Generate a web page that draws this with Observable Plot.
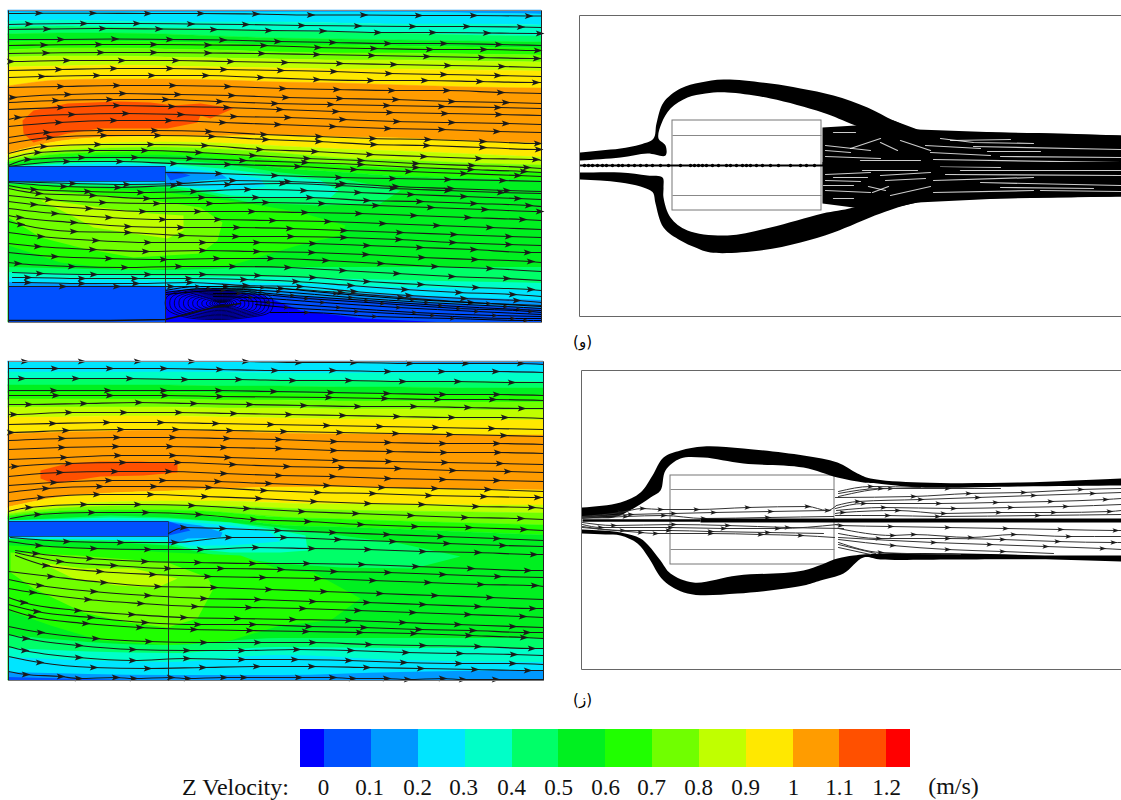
<!DOCTYPE html>
<html><head><meta charset="utf-8">
<script src="https://cdn.jsdelivr.net/npm/d3@7"></script>
<script src="https://cdn.jsdelivr.net/npm/@observablehq/plot@0.6"></script>
<style>html,body{margin:0;padding:0;background:#fff}svg{display:block}</style>
</head><body><div id="chart"></div>
<script>
// Colour ramp
const C = {v0:"#0000ff",v01:"#0050ff",v02:"#0098ff",v03:"#00e5ff",v04:"#00ffc8",v05:"#00ff68",v06:"#00f020",v07:"#20ff00",v08:"#70ff00",v09:"#c0ff00",v10:"#ffe800",v11:"#ff9c00",v12:"#ff5000",v13:"#ff0000"};

// Legend
const legendEdges = [300,324,371,418,465,512,558,605,652,699,746,793,839,886,910];
const legendColors = [C.v0,C.v01,C.v02,C.v03,C.v04,C.v05,C.v06,C.v07,C.v08,C.v09,C.v10,C.v11,C.v12,C.v13];
const legendLabels = ["0","0.1","0.2","0.3","0.4","0.5","0.6","0.7","0.8","0.9","1","1.1","1.2"];
const legendLabelX = [323,369,417,463,511,558,605,651,698,745,793,839,886];

// Panel A (top left) contour bands: lower edge of each band at bandXA
const bandXA = [8,60,110,165,220,280,340,400,470,541];
const bandsA = [
 [C.v02,[12,12,12,12,12,12,12,12,13,14]],
 [C.v03,[21,20,21,22,22,22,23,24,24,25]],
 [C.v04,[27,26,27,28,29,31,32,33,35,36]],
 [C.v05,[34,33,33,34,36,38,39,40,41,42]],
 [C.v06,[42,41,41,42,43,45,45,46,47,48]],
 [C.v07,[50,48,48,49,50,52,53,53,54,55]],
 [C.v08,[57,56,56,57,58,59,60,60,61,62]],
 [C.v09,[67,66,65,66,67,68,69,69,70,71]],
 [C.v10,[86,80,79,79,80,82,83,85,87,88]],
 [C.v11,[153,141,137,136,136,135,137,138,141,143]],
 [C.v10,[156,147,143,142,143,146,149,151,154,157]],
 [C.v09,[160,151,148,147,149,153,158,160,163,165]],
 [C.v08,[162,154,152,151,154,160,165,168,170,172]],
 [C.v07,[164,157,155,155,159,168,172,176,178,180]],
 [C.v06,[322,322,322,322,322,322,322,322,322,322]]
];
const patchesA = [
 [C.v12,[22,120,33,110,67,103,117,101,150,102,173,105,200,103,233,108,210,118,200,115,197,122,167,128,100,128,67,133,33,142,23,133]],
 [C.v05,[8,166,60,160,110,158,165,159,220,163,280,172,340,178,400,190,380,203,320,205,250,202,200,192,165,187,100,186,8,184]],
 [C.v04,[8,166,60,163,110,161,165,163,220,168,280,175,320,180,338,190,330,197,280,197,230,195,190,188,165,185,60,183,8,182]],
 [C.v03,[8,166,110,163,165,165,220,172,260,178,265,186,230,190,190,187,165,184,8,182]],
 [C.v02,[165,170,220,173,227,178,200,180,165,185]],
 [C.v01,[165,172,180,172,190,175,170,180]],
 [C.v07,[8,184,100,188,165,192,250,203,300,212,345,225,340,235,297,245,230,265,130,270,60,262,8,245]],
 [C.v08,[8,187,67,192,133,197,200,207,222,222,217,240,200,253,133,257,83,248,40,237,8,217]],
 [C.v09,[50,200,100,207,150,213,183,215,183,230,167,238,133,233,93,227,67,213,40,200]]
];
const floorXA = [8,165,280,400,541];
const floorA = [
 [C.v05,[267,270,267,267,267]],
 [C.v04,[272,276,277,280,283]],
 [C.v03,[277,281,283,287,290]],
 [C.v02,[282,286,290,295,300]],
 [C.v01,[286,289,295,302,308]]
];
const plateA = [[8,166,165,181],[8,286,165,322]];
const plateB = [[8,521,168,536]];
const wakeA = [165,291,213,288,262,295,300,310,363,318,447,322,165,322];

// Panel A streamlines: x,y pairs; first and last are the ends, the others carry arrows
const streamsA = [
[8,13,38,12.7,92,12.7,147,13,200,13,255,13.5,310,14.5,363,14.5,418,15,473,15,528,15.5,541,15.5],
[8,24,28,23.5,83,23,136,23,190,23.5,245,24,301,25,357,25.5,412,26,466,26,520,26.5,541,27],
[8,29,46,28.5,102,28,158,28.5,213,29,268,30,322,30.5,377,32,432,32,486,32.5,539,33,541,33],
[8,39,60,39,114,38.5,169,39,222,39.5,277,41,332,42,387,43,443,43,498,44,541,45],
[8,45,43,44.5,98,44,153,44,207,44.5,263,45,317,47,373,48,429,49,483,49,537,50,541,50],
[8,53,45,52.5,100,52,153,52,207,52.5,261,53,316,54,371,55,426,56,481,57,536,58,541,58],
[8,61,10,61,66,60,121,60,175,60,230,61,284,62,339,63,393,64,447,65,501,66,541,67],
[8,70,58,69,113,68,169,68,223,69,280,70,333,71,388,73,443,74,497,75,541,76],
[8,77,41,76,96,75,151,75,205,75,260,77,316,79,370,80,424,80,479,81,535,82,541,82],
[8,87,60,86,116,85,172,85,227,86,282,88,336,89,391,90,446,90,500,92,541,93],
[8,98,12,97,67,94,122,93,177,94,231,95,285,97,339,98,395,99,451,101,505,102,541,103],
[8,102,55,100,109,99,165,99,219,101,274,103,330,104,386,105,441,106,497,107,541,108],
[8,109,60,107,116,105,171,106,226,107,279,109,335,111,389,112,444,113,498,114,541,115],
[8,119,17,117,71,114,125,113,180,114,233,116,287,117,342,119,396,121,451,122,505,123,541,124],
[8,126,58,122,113,120,168,120,222,122,277,124,332,126,387,128,441,129,496,131,541,132],
[8,137,46,132,100,130,154,130,208,131,263,134,318,136,372,138,427,139,482,141,537,143,541,143],
[8,143,49,137,103,135,157,135,211,136,265,139,318,141,373,144,426,145,482,147,538,149,541,149],
[8,153,43,146,97,144,150,144,204,145,259,149,314,151,369,154,423,156,478,158,535,159,541,160],
[8,158,37,152,91,150,144,150,198,152,252,155,306,158,360,160,415,163,471,165,526,167,541,168],
[8,165,27,159,81,157,134,157,189,158,242,160,304,162,360,164,415,167,470,169,523,171,541,172],
[8,166,66,161,119,161,173,163,227,164,297,166,353,169,408,171,463,173,517,175,541,176],
[165,172,218,173,274,175,338,177,392,178,447,179,502,180,541,181],
[8,181,72,183,126,184,179,183,232,180,287,181,342,183,395,186,450,188,506,190,541,191],
[8,182,63,186,117,187,173,185,227,184,282,183,338,185,392,188,447,190,500,192,541,193],
[8,185,33,189,87,191,140,192,193,191,247,189,303,190,357,192,410,194,463,196,517,198,541,199],
[8,188,38,193,92,195,146,198,201,197,255,197,309,197,366,200,419,201,473,203,528,205,541,206],
[8,195,48,199,102,202,156,203,209,203,265,202,321,203,375,205,430,207,484,209,539,211,541,211],
[8,201,33,204,88,208,142,211,197,211,251,211,304,212,358,213,413,215,467,217,522,219,541,220],
[8,208,54,213,108,217,162,219,217,219,272,220,327,221,382,223,436,225,489,227,541,229],
[8,215,19,217,73,222,127,226,180,227,236,227,289,228,343,230,399,232,453,234,508,236,541,237],
[8,221,20,224,73,231,127,232,181,235,235,236,290,236,343,237,398,239,452,242,508,244,541,245],
[8,232,40,236,95,240,147,242,202,242,256,242,312,243,366,245,419,247,473,249,527,252,541,252],
[8,243,37,246,92,249,145,251,202,250,256,251,311,252,365,254,421,257,474,259,530,261,541,262],
[8,252,54,256,108,258,163,259,216,258,270,258,325,260,380,263,434,266,489,268,541,271],
[8,262,17,263,71,266,124,267,178,266,232,266,287,267,342,270,396,273,451,276,506,278,541,280],
[12,272,39,273,93,274,147,274,202,274,257,275,312,277,366,281,420,284,475,287,530,289,541,290],
[12,277,27,277,81,278,134,278,188,278,243,279,295,281,350,285,404,289,458,292,512,294,541,296],
[12,282,27,282,81,283,135,283,189,282,245,285,299,286,353,291,408,295,463,298,516,300,541,302],
[8,286,62,286,116,286,170,286,225,286,280,288,340,292,400,297,470,302,541,305]
];
const denseA = [
[165,290,197,286,262,287,335,293,412,299,488,303,541,306],
[165,292,208,288,278,291,350,297,426,302,505,306,541,308],
[165,294,222,290,292,295,366,300,440,305,518,309,541,310],
[213,293,238,293,306,298,382,303,458,308,530,311,541,312],
[213,296,250,297,322,302,398,307,476,311,541,314],
[240,300,268,302,338,307,414,312,494,315,541,316],
[255,304,286,307,356,311,432,315,512,318,541,318],
[270,312,306,312,374,316,452,318,525,320,541,320]
];
const bottomLineA = [8,320,60,320,110,320,165,319,213,307,240,303];
// Vortex: one digitised loop, drawn at several sizes about its centre
const vortexCentre = [222,303];
const vortexLoop = [-56,-6,-40,-13,0,-15,35,-13,50,-4,48,8,25,14,-10,16,-40,13,-56,5];
const vortexSizes = [0.06,0.1,0.14,0.18,0.22,0.28,0.36,0.44,0.52,0.6,0.68,0.76,0.84,0.92,1];

// Panel B (bottom left)
const bandXB = [8,60,110,168,220,280,340,400,470,543];
const bandsB = [
 [C.v02,[362,362,362,362,362,362,362,363,364,365]],
 [C.v03,[372,372,372,372,372,373,373,373,373,373]],
 [C.v04,[379,379,379,379,379,380,380,381,381,382]],
 [C.v05,[385,385,385,385,386,386,387,387,388,388]],
 [C.v06,[392,392,392,392,393,393,394,394,395,395]],
 [C.v07,[399,399,399,399,400,400,401,401,402,402]],
 [C.v08,[407,407,407,407,408,408,409,409,410,410]],
 [C.v09,[417,417,416,416,417,418,419,419,420,420]],
 [C.v10,[434,432,431,430,431,433,434,434,435,435]],
 [C.v11,[507,497,493,491,489,487,487,488,489,490]],
 [C.v10,[512,505,502,501,501,503,504,504,505,505]],
 [C.v09,[514,508,506,505,506,508,510,511,512,513]],
 [C.v08,[516,511,510,510,512,517,519,521,523,525]],
 [C.v07,[518,514,513,514,517,525,527,529,532,535]],
 [C.v06,[680,680,680,680,680,680,680,680,680,680]]
];
const patchesB = [
 [C.v12,[40,470,67,463,100,461,140,461,177,463,177,472,143,475,100,476,53,483,40,478]],
 [C.v05,[8,520,110,515,168,517,220,521,280,527,340,535,400,543,460,556,413,568,340,567,280,563,220,556,168,545,100,541,8,539]],
 [C.v04,[8,520,110,517,168,518,230,522,280,530,305,535,307,550,280,552,230,552,190,548,168,542,100,539,8,538]],
 [C.v03,[8,520,110,519,168,520,230,525,270,532,280,541,230,545,190,545,168,540,8,538]],
 [C.v02,[168,521,200,525,222,532,220,537,187,538,168,545]],
 [C.v01,[168,521,185,526,190,530,168,535]],
 [C.v07,[8,545,100,548,168,552,240,555,282,570,313,572,360,598,330,620,280,625,230,640,168,645,100,640,50,625,8,610]],
 [C.v08,[10,552,77,555,167,562,207,577,213,588,197,618,167,627,127,622,83,612,33,588,10,572]],
 [C.v09,[40,562,83,568,133,568,177,578,157,587,117,585,73,578]]
];
const floorXB = [8,168,280,400,543];
const floorB = [
 [C.v05,[635,645,638,638,638]],
 [C.v04,[648,653,647,648,648]],
 [C.v03,[657,662,655,660,662]],
 [C.v02,[672,675,675,672,670]],
 [C.v01,[677,680,680,680,680]]
];
const streamsB = [
[8,361,24,361,81,361,137,361,191,361,245,361,298,362,353,362,409,363,465,363,520,363,543,364],
[8,368,54,368,109,368,163,368,219,369,274,370,332,370,387,371,441,371,495,371,543,372],
[8,378,21,378,75,378,129,378,184,379,238,379,292,380,348,380,402,381,457,381,511,382,543,382],
[8,390,53,390,107,390,163,390,218,390,273,391,330,392,386,393,442,394,496,394,543,395],
[8,395,55,395,109,395,164,395,219,396,328,397,384,398,437,399,492,399,543,400],
[8,404,28,404,83,403,138,402,193,403,249,404,303,405,357,406,413,406,467,407,521,408,543,408],
[8,414,13,414,68,412,123,412,178,412,233,413,288,414,342,415,396,416,451,417,504,417,543,418],
[8,424,52,423,106,422,160,422,215,423,270,424,326,425,379,426,435,427,491,428,543,429],
[8,432,10,432,65,430,120,429,175,429,229,430,283,431,339,432,395,433,449,434,503,435,543,436],
[8,440,61,438,116,437,172,437,226,438,278,439,333,441,387,442,442,443,496,443,543,444],
[8,449,61,447,115,446,169,446,223,447,278,448,333,450,389,451,443,452,497,452,543,453],
[8,459,63,457,117,455,172,455,227,457,335,460,388,461,444,462,499,463,543,464],
[8,467,14,466,68,463,122,462,177,462,232,464,286,466,341,467,397,468,452,470,507,471,543,472],
[8,476,59,472,114,471,168,471,223,473,278,475,332,476,387,478,442,479,496,480,543,481],
[8,485,53,482,108,480,162,480,217,481,268,483,326,485,381,487,434,488,487,489,543,491],
[8,492,45,488,99,486,153,486,208,487,263,490,317,492,372,493,428,495,483,496,537,497,543,497],
[8,501,40,497,96,494,150,494,204,496,258,498,313,501,367,503,421,504,475,506,531,507,543,508],
[8,511,28,507,83,504,137,504,191,505,246,508,301,511,355,513,410,515,464,517,520,518,543,519],
[10,518,37,514,91,512,145,512,198,514,253,519,307,521,360,524,414,526,468,527,523,529,543,530],
[168,533,183,527,222,528,277,530,332,532,386,534,440,536,496,538,543,540],
[10,537,66,541,120,542,174,542,228,537,283,537,337,539,392,541,446,543,502,545,543,546],
[8,541,38,545,93,548,147,549,200,549,255,547,311,548,367,549,422,551,477,552,533,554,543,554],
[15,550,35,553,89,558,144,561,197,562,252,563,306,563,361,564,415,566,470,568,527,570,543,570],
[15,552,59,561,113,565,167,568,220,568,280,569,333,571,387,572,442,574,497,576,543,577],
[15,555,45,565,99,571,152,574,207,576,262,577,317,578,372,580,427,582,480,584,534,585,543,586],
[8,571,50,576,103,582,157,586,213,587,268,589,323,591,379,593,434,595,489,597,543,599],
[8,579,39,585,93,591,147,595,203,598,257,599,312,601,366,602,422,604,477,606,532,608,543,608],
[8,588,32,592,87,599,140,603,194,606,248,607,302,608,357,610,412,612,467,614,522,616,543,617],
[8,597,23,602,77,610,131,614,183,617,237,618,292,619,348,620,402,622,457,624,512,626,543,627],
[8,604,36,611,90,617,144,622,197,624,252,624,308,626,363,627,418,629,472,630,526,632,543,632],
[8,609,31,616,85,623,139,627,193,629,249,630,305,631,359,632,413,633,468,635,523,637,543,638],
[8,626,40,632,95,638,148,641,203,642,257,642,312,642,368,644,422,645,477,646,531,648,543,648],
[8,634,25,638,78,645,132,649,186,650,241,650,296,649,350,650,405,652,459,653,513,654,543,655],
[8,646,24,650,78,657,132,660,186,658,241,659,294,659,348,660,403,662,458,663,512,663,543,664],
[8,656,39,662,93,667,147,668,202,667,256,666,311,666,366,667,420,668,474,669,527,670,543,670],
[8,671,25,674,60,676,78,678,115,677,133,678,170,677,187,678,223,677,243,677,298,677,332,677,352,678,386,678,407,679,442,678,462,679,495,679,543,679]
];

// Panel C (top right): pathline envelopes, outline; ends run past the frame
const frameC = [[579,15,579,316],[579,15,1121,15],[579,316,1121,316]];
const boxC = [672,120,821,210];
const boxLinesC = [135,195];
const lobesC = [
 [555,153,580,152,600,150,620,148,640,144,653,138,656,123,663,102,680,88,700,82,723,79,770,83,800,88,833,95,867,107,893,120,917,129,1000,132,1060,133,1121,135,1170,136,1170,180,917,150,855,125,822,112,770,98,727,92,705,93,687,97,670,108,661,123,658,138,665,145,665,155,647,153,620,157,580,160,555,161],
 [555,179,580,179,600,180,620,182,640,186,650,190,653,193,655,203,663,227,680,240,695,247,710,252,760,250,800,242,833,232,880,213,917,202,1000,198,1121,196,1170,195,1170,180,917,185,853,207,822,213,770,227,727,235,687,230,670,217,663,197,663,187,662,177,647,175,620,172,580,172,555,172]
];
const massC = [822,127,855,125,893,120,917,129,1000,132,1121,135,1121,196,1000,198,917,202,880,210,853,207,822,203];
const streaksC = [
 [833,132,855,132],[880,142,897,150],[862,170,917,170],[940,138,973,142,1033,143],[973,146,1120,149],[987,151,1040,151],
 [1000,156,1120,157],[933,159,1120,162],[960,170,1120,170],[933,180,1033,177],[980,182,1120,185],[1000,187,1093,188],
 [933,192,1033,190],[1040,190,1120,191],[823,185,853,185],[833,198,853,198],[833,177,867,177],[825,150,850,152],
 [825,145,870,150],[825,156,880,158],[868,186,885,190],[872,192,888,186],[900,140,930,150],
 [825,174,870,172],[825,180,860,181],[825,190,870,192],[880,175,930,172],[885,180,925,178],[890,195,930,186],
 [925,145,980,148],[930,152,990,155],[940,166,1000,167],[945,174,1120,175],[950,140,1010,139],[860,160,920,160],[850,148,880,138]
];
const centreDotsC = [584,588,592,597,602,606,612,618,622,628,634,640,646,652,660,668,680,690,694,698,702,706,712,718,726,730,736,742,746,750,756,762,770,778,790,800,806,814];

// Panel D (bottom right)
const frameD = [[581,370,581,669],[581,370,1121,370],[581,669,1121,669]];
const boxD = [670,475,834,564];
const boxLinesD = [489,549];
const lobesD = [
 [555,508,582,507,620,502,640,492,652,475,663,457,680,450,703,446,743,448,803,455,837,462,857,473,870,478,920,482,1020,482,1121,478,1170,477,1170,485,1121,485,1020,486,920,487,877,483,863,482,837,477,803,467,743,463,703,457,680,458,665,470,660,490,650,497,633,508,613,517,582,517,555,517],
 [555,533,582,533,605,534,620,535,637,543,648,557,663,580,687,593,737,593,803,585,820,580,843,573,863,557,880,559,953,559,1053,559,1121,561,1170,561,1170,555,1121,555,1053,555,963,553,880,553,853,555,837,558,803,570,737,575,693,582,670,573,660,560,648,545,640,538,620,532,582,529,555,529]
];
const streamsD = [
[582,516,620,512,642,508,660,509,696,509,747,507,807,506,827,510,836,505],
[582,517,630,514,673,513,713,512,770,511,827,510],
[582,518,625,516,663,515,703,518,767,517,833,516],
[582,522,613,525,673,524,727,525,787,527,843,528],
[582,524,600,527,670,527,723,528,777,528,837,524],
[582,526,622,530,668,530,710,531,767,532,823,533],
[582,527,640,532,655,533,710,533,760,534,800,535,834,537],
[835,497,913,496,968,493,1023,492,1080,489,1121,488],
[836,505,857,501,920,499,977,497,1033,495,1092,493,1121,492],
[835,508,863,503,938,503,995,502,1050,501,1105,499,1121,498],
[836,510,883,507,953,508,1010,507,1065,506,1121,504],
[835,513,842,512,897,510,943,513,998,512,1053,512,1109,511,1121,510],
[835,515,887,515,937,516,1037,515,1121,514],
[835,524,840,525,890,526,947,527,1005,528,1060,529,1115,530,1121,530],
[838,528,892,535,913,534,970,537,1013,534,1068,536,1120,536],
[838,533,878,538,947,538,1002,539,1057,541,1113,542,1121,542],
[838,537,933,542,989,544,1045,546,1102,548,1121,549],
[838,539,892,545,947,549,1002,551,1053,553],
[838,496,890,488,947,488,1000,488],
[838,491,870,486,920,487],
[838,493,880,488,930,488],
[838,542,880,552,960,554],
[838,544,875,553],
[838,547,870,554]
];
const gapMasks = [[545,15,579,316],[545,370,581,669]];

const Pair = a => d3.range(0, a.length, 2).map(i => ({x: a[i], y: a[i + 1]}));

// Filled triangular arrowhead with a notched tail
const arrowHead = {draw(ctx, size) {
  const r = Math.sqrt(size / Math.PI);
  ctx.moveTo(r * 1.25, 0); ctx.lineTo(-r * 0.95, r * 0.72); ctx.lineTo(-r * 0.45, 0); ctx.lineTo(-r * 0.95, -r * 0.72); ctx.closePath();
}};

const marks = [];
const poly = (a, fill, curve) => Plot.line(Pair(a), {x:"x", y:"y", fill, stroke:"none", curve: curve || "catmull-rom-closed"});

function fieldPanel(xs, top, bands, patches, floorX, floor, bottom, plates) {
  let prev = xs.map(() => top);
  for (const [color, ys] of bands) {
    const row = xs.map((x, i) => ({x, y1: prev[i], y2: ys[i]}));
    marks.push(Plot.areaY(row, {x:"x", y1:"y1", y2:"y2", fill:color, stroke:color, strokeWidth:0.5, curve:"monotone-x"}));
    prev = ys;
  }
  for (const [color, a] of patches) marks.push(poly(a, color, "linear-closed"));
  for (const [color, ys] of floor) marks.push(Plot.areaY(floorX.map((x, i) => ({x, y:ys[i], b:bottom})), {x:"x", y1:"y", y2:"b", fill:color, curve:"monotone-x"}));
  for (const [x1, y1, x2, y2] of plates) marks.push(Plot.rect([{x1, y1, x2, y2}], {x1:"x1", x2:"x2", y1:"y1", y2:"y2", fill:C.v01}));
}
fieldPanel(bandXA, 10, bandsA, patchesA, floorXA, floorA, 322, plateA);
fieldPanel(bandXB, 361, bandsB, patchesB, floorXB, floorB, 680, plateB);

// Vortex behind the lower step in panel A
marks.push(poly(wakeA, C.v0, "linear-closed"));
const vp = Pair(vortexLoop);
for (const s of vortexSizes) marks.push(Plot.line(vp.map(p => ({x: vortexCentre[0] + p.x * s, y: vortexCentre[1] + p.y * s})), {x:"x", y:"y", stroke:"#000", strokeWidth:0.7, curve:"catmull-rom-closed"}));

function streams(list, w, r, col) {
  for (const a of list) {
    const p = Pair(a);
    marks.push(Plot.line(p, {x:"x", y:"y", stroke:col, strokeWidth:w, curve:"monotone-x"}));
    marks.push(Plot.dot(p.slice(1, -1), {x:"x", y:"y", symbol:arrowHead, r, fill:"#1a1a1a", stroke:"none"}));
  }
}
streams(streamsA, 1.1, 4, "#1a1a1a");
streams(streamsB, 1.1, 4, "#1a1a1a");
streams(denseA, 1, 3, "#000");
marks.push(Plot.line(Pair(bottomLineA), {x:"x", y:"y", stroke:"#111", strokeWidth:1.4}));

// Panel frames and internal edges
const seg = (x1, y1, x2, y2, stroke, w) => Plot.link([{x1, y1, x2, y2}], {x1:"x1", y1:"y1", x2:"x2", y2:"y2", stroke, strokeWidth:w});
marks.push(seg(8,10,541,10,"#888",1), seg(8,10,8,322,"#222",1), seg(541,10,541,322,"#222",1), seg(8,322,541,322,"#777",1.2), seg(165,181,165,322,"#222",0.9));
marks.push(seg(8,361,543,361,"#888",1), seg(8,361,8,680,"#222",1), seg(543,361,543,680,"#222",1), seg(8,680,543,680,"#777",1.2), seg(168,536,168,680,"#222",0.9));
marks.push(seg(8,166,165,166,"#123",0.7), seg(8,181,165,181,"#123",0.7), seg(165,166,165,181,"#123",0.7));
marks.push(seg(8,521,168,521,"#123",0.7), seg(8,536,168,536,"#123",0.7), seg(168,521,168,536,"#123",0.7));

// Right panels
function boxMarks(box, lines) {
  marks.push(Plot.rect([{x1:box[0], y1:box[1], x2:box[2], y2:box[3]}], {x1:"x1", x2:"x2", y1:"y1", y2:"y2", stroke:"#777", strokeWidth:1, fill:"none"}));
  for (const y of lines) marks.push(seg(box[0], y, box[2], y, "#888", 1));
}
boxMarks(boxC, boxLinesC);
for (const a of lobesC) marks.push(poly(a, "#000"));
marks.push(poly(massC, "#000", "linear-closed"));
for (const a of streaksC) marks.push(Plot.line(Pair(a), {x:"x", y:"y", stroke:"#fff", strokeOpacity:0.8, strokeWidth:1.2}));
marks.push(seg(579,165,1121,165,"#000",2));
marks.push(seg(822,163,1121,163,"#000",3));
marks.push(Plot.dot(centreDotsC.map(x => ({x, y:165})), {x:"x", y:"y", r:1.7, fill:"#000"}));

boxMarks(boxD, boxLinesD);
for (const a of lobesD) marks.push(poly(a, "#000"));
streams(streamsD, 1, 3.2, "#333");
marks.push(seg(582,520,700,520,"#000",2.5), seg(700,520,1121,520,"#000",4));

// White gap left of the right panels, then their frames
for (const [x1, y1, x2, y2] of gapMasks) marks.push(Plot.rect([{x1, y1, x2, y2}], {x1:"x1", x2:"x2", y1:"y1", y2:"y2", fill:"#fff"}));
for (const [a, b, c, d] of frameC.concat(frameD)) marks.push(seg(a, b, c, d, "#666", 1));

// Panel letters
marks.push(Plot.text([{x:582, y:342}], {x:"x", y:"y", text:()=>"(و)", fontFamily:"DejaVu Sans", fontSize:15, fill:"#000"}));
marks.push(Plot.text([{x:582, y:700}], {x:"x", y:"y", text:()=>"(ز)", fontFamily:"DejaVu Sans", fontSize:15, fill:"#000"}));

// Legend
marks.push(Plot.rect(legendColors.map((c, i) => ({x1:legendEdges[i], x2:legendEdges[i+1], y1:729, y2:767, c})), {x1:"x1", x2:"x2", y1:"y1", y2:"y2", fill:"c"}));
const serif = "Liberation Serif, Times New Roman, serif";
marks.push(Plot.text(legendLabels.map((t, i) => ({t, x:legendLabelX[i], y:787})), {x:"x", y:"y", text:"t", fontFamily:serif, fontSize:23, fill:"#111"}));
marks.push(Plot.text([{x:235, y:787}], {x:"x", y:"y", text:()=>"Z Velocity:", fontFamily:serif, fontSize:24, fill:"#111"}));
marks.push(Plot.text([{x:953, y:786}], {x:"x", y:"y", text:()=>"(m/s)", fontFamily:serif, fontSize:24, fill:"#111"}));

const chart = Plot.plot({
  width:1121, height:800, margin:0,
  x:{domain:[0,1121], range:[0,1121], axis:null},
  y:{domain:[0,800], range:[0,800], axis:null},
  color:{type:"identity"},
  style:{background:"#fff"},
  marks
});
document.getElementById("chart").append(chart);
</script></body></html>
